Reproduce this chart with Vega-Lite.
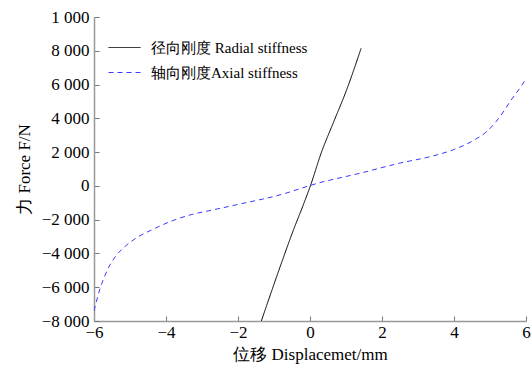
{
  "$schema": "https://vega.github.io/schema/vega-lite/v6.json",
  "autosize": "none",
  "width": 432,
  "height": 304,
  "padding": {"left": 94, "top": 17, "right": 6, "bottom": 57},
  "background": "white",
  "config": {
    "view": {"stroke": null},
    "font": "Liberation Serif"
  },
  "datasets": {
    "curves": [
      {"s": "径向刚度 Radial stiffness", "x": -1.36, "y": -8050},
      {"s": "径向刚度 Radial stiffness", "x": -0.83, "y": -4790},
      {"s": "径向刚度 Radial stiffness", "x": -0.46, "y": -2610},
      {"s": "径向刚度 Radial stiffness", "x": -0.2, "y": -1200},
      {"s": "径向刚度 Radial stiffness", "x": 0.02, "y": 60},
      {"s": "径向刚度 Radial stiffness", "x": 0.32, "y": 2000},
      {"s": "径向刚度 Radial stiffness", "x": 0.65, "y": 3750},
      {"s": "径向刚度 Radial stiffness", "x": 1.02, "y": 5700},
      {"s": "径向刚度 Radial stiffness", "x": 1.42, "y": 8150},
      {"s": "轴向刚度Axial stiffness", "x": -6.0, "y": -7400},
      {"s": "轴向刚度Axial stiffness", "x": -5.83, "y": -6070},
      {"s": "轴向刚度Axial stiffness", "x": -5.69, "y": -5280},
      {"s": "轴向刚度Axial stiffness", "x": -5.56, "y": -4690},
      {"s": "轴向刚度Axial stiffness", "x": -5.37, "y": -4090},
      {"s": "轴向刚度Axial stiffness", "x": -5.09, "y": -3500},
      {"s": "轴向刚度Axial stiffness", "x": -4.77, "y": -3010},
      {"s": "轴向刚度Axial stiffness", "x": -4.44, "y": -2650},
      {"s": "轴向刚度Axial stiffness", "x": -3.89, "y": -2120},
      {"s": "轴向刚度Axial stiffness", "x": -3.33, "y": -1720},
      {"s": "轴向刚度Axial stiffness", "x": -2.69, "y": -1420},
      {"s": "轴向刚度Axial stiffness", "x": -1.94, "y": -1070},
      {"s": "轴向刚度Axial stiffness", "x": -0.83, "y": -530},
      {"s": "轴向刚度Axial stiffness", "x": 0.22, "y": 160},
      {"s": "轴向刚度Axial stiffness", "x": 1.39, "y": 750},
      {"s": "轴向刚度Axial stiffness", "x": 2.5, "y": 1350},
      {"s": "轴向刚度Axial stiffness", "x": 3.43, "y": 1780},
      {"s": "轴向刚度Axial stiffness", "x": 3.98, "y": 2140},
      {"s": "轴向刚度Axial stiffness", "x": 4.54, "y": 2690},
      {"s": "轴向刚度Axial stiffness", "x": 4.91, "y": 3220},
      {"s": "轴向刚度Axial stiffness", "x": 5.28, "y": 4110},
      {"s": "轴向刚度Axial stiffness", "x": 5.56, "y": 5000},
      {"s": "轴向刚度Axial stiffness", "x": 5.88, "y": 5950},
      {"s": "轴向刚度Axial stiffness", "x": 6.0, "y": 6350}
    ]
  },
  "data": {"name": "curves"},
  "mark": {"type": "line", "interpolate": "monotone", "strokeWidth": 1, "clip": true},
  "encoding": {
    "x": {
      "field": "x", "type": "quantitative",
      "scale": {"domain": [-6, 6], "nice": false, "zero": false},
      "axis": {
        "values": [-6, -4, -2, 0, 2, 4, 6],
        "title": "位移 Displacemet/mm",
        "titleFont": "Liberation Serif",
        "titleFontSize": 17, "titleFontWeight": "normal", "titleColor": "black",
        "titlePadding": 6,
        "labelFont": "Liberation Serif", "labelFontSize": 17, "labelColor": "black",
        "labelPadding": 8, "tickSize": -5, "tickColor": "#777", "domainColor": "#999",
        "domainWidth": 1.5, "grid": false, "labelFlush": false,
        "labelExpr": "replace(format(datum.value, ','), ',', ' ')"
      }
    },
    "y": {
      "field": "y", "type": "quantitative",
      "scale": {"domain": [-8000, 10000], "nice": false, "zero": false},
      "axis": {
        "values": [-8000, -6000, -4000, -2000, 0, 2000, 4000, 6000, 8000, 10000],
        "title": "力 Force F/N",
        "titleFont": "Liberation Serif",
        "titleFontSize": 17, "titleFontWeight": "normal", "titleColor": "black",
        "titlePadding": 8,
        "labelFont": "Liberation Serif", "labelFontSize": 17, "labelColor": "black",
        "labelPadding": 10, "tickSize": -5, "tickColor": "#777", "domainColor": "#999",
        "domainWidth": 1.5, "grid": false, "labelFlush": false,
        "labelExpr": "datum.value == 10000 ? '1 000' : replace(format(datum.value, ','), ',', ' ')"
      }
    },
    "color": {
      "field": "s", "type": "nominal",
      "scale": {"domain": ["径向刚度 Radial stiffness", "轴向刚度Axial stiffness"], "range": ["black", "#3a3aff"]},
      "legend": {
        "title": null, "orient": "none", "legendX": 14, "legendY": 14,
        "symbolType": "stroke", "symbolSize": 1024, "symbolStrokeWidth": 1,
        "labelFont": "Liberation Serif", "labelFontSize": 15, "labelColor": "black",
        "labelOffset": 10, "rowPadding": -7, "padding": 0
      }
    },
    "strokeDash": {
      "field": "s", "type": "nominal",
      "scale": {"domain": ["径向刚度 Radial stiffness", "轴向刚度Axial stiffness"], "range": [[1, 0], [5, 4]]},
      "legend": null
    },
    "order": {"field": "x", "type": "quantitative"}
  }
}
